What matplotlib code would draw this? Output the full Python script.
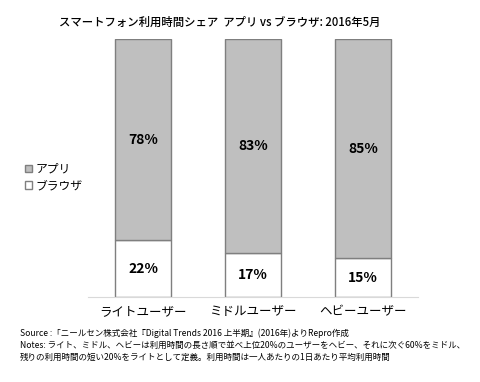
import matplotlib.pyplot as plt

plt.rcParams['font.family'] = ['Noto Sans CJK JP', 'DejaVu Sans']

# データ
categories = ['ライトユーザー', 'ミドルユーザー', 'ヘビーユーザー']
app_share = [78, 83, 85]
browser_share = [22, 17, 15]
series_names = ['アプリ', 'ブラウザ']

fig = plt.figure(figsize=(4.8, 3.82), dpi=100)
ax = fig.add_axes([88 / 480, 1 - 297 / 382, 330 / 480, 258 / 382])

x = range(len(categories))
ax.bar(x, browser_share, width=0.51, color='white', edgecolor='#7f7f7f', linewidth=1, label=series_names[1])
ax.bar(x, app_share, width=0.51, bottom=browser_share, color='#bfbfbf', edgecolor='#7f7f7f', linewidth=1, label=series_names[0])

for i in x:
    ax.text(i, browser_share[i] / 2, f'{browser_share[i]}%', ha='center', va='center',
            fontsize=10, fontweight='bold')
    ax.text(i, browser_share[i] + app_share[i] / 2, f'{app_share[i]}%', ha='center', va='center',
            fontsize=10, fontweight='bold')

ax.set_xlim(-0.5, 2.5)
ax.set_ylim(0, 100)
ax.set_xticks(list(x))
ax.set_xticklabels(categories, fontsize=9)
ax.tick_params(axis='x', length=0, pad=6)
ax.set_yticks([])
for s in ['top', 'right', 'left']:
    ax.spines[s].set_visible(False)
ax.spines['bottom'].set_color('#d9d9d9')

handles, labels = ax.get_legend_handles_labels()
fig.legend(handles[::-1], labels[::-1], loc='center left', bbox_to_anchor=(0.03, 0.535),
           frameon=False, fontsize=8.5, handlelength=0.6, handleheight=0.6,
           handletextpad=0.3, labelspacing=0.3)

fig.text(0.457, 0.942, 'スマートフォン利用時間シェア  アプリ vs ブラウザ: 2016年5月',
         ha='center', va='center', fontsize=8.2, fontweight='medium')

notes = ('Source :「ニールセン株式会社『Digital Trends 2016 上半期』(2016年)よりRepro作成\n'
         'Notes: ライト、ミドル、ヘビーは利用時間の長さ順で並べ上位20%のユーザーをヘビー、それに次ぐ60%をミドル、\n'
         '残りの利用時間の短い20%をライトとして定義。利用時間は一人あたりの1日あたり平均利用時間')
fig.text(0.042, 0.14, notes, ha='left', va='top', fontsize=6.15, linespacing=1.4)

plt.savefig('out.png', dpi=100)
